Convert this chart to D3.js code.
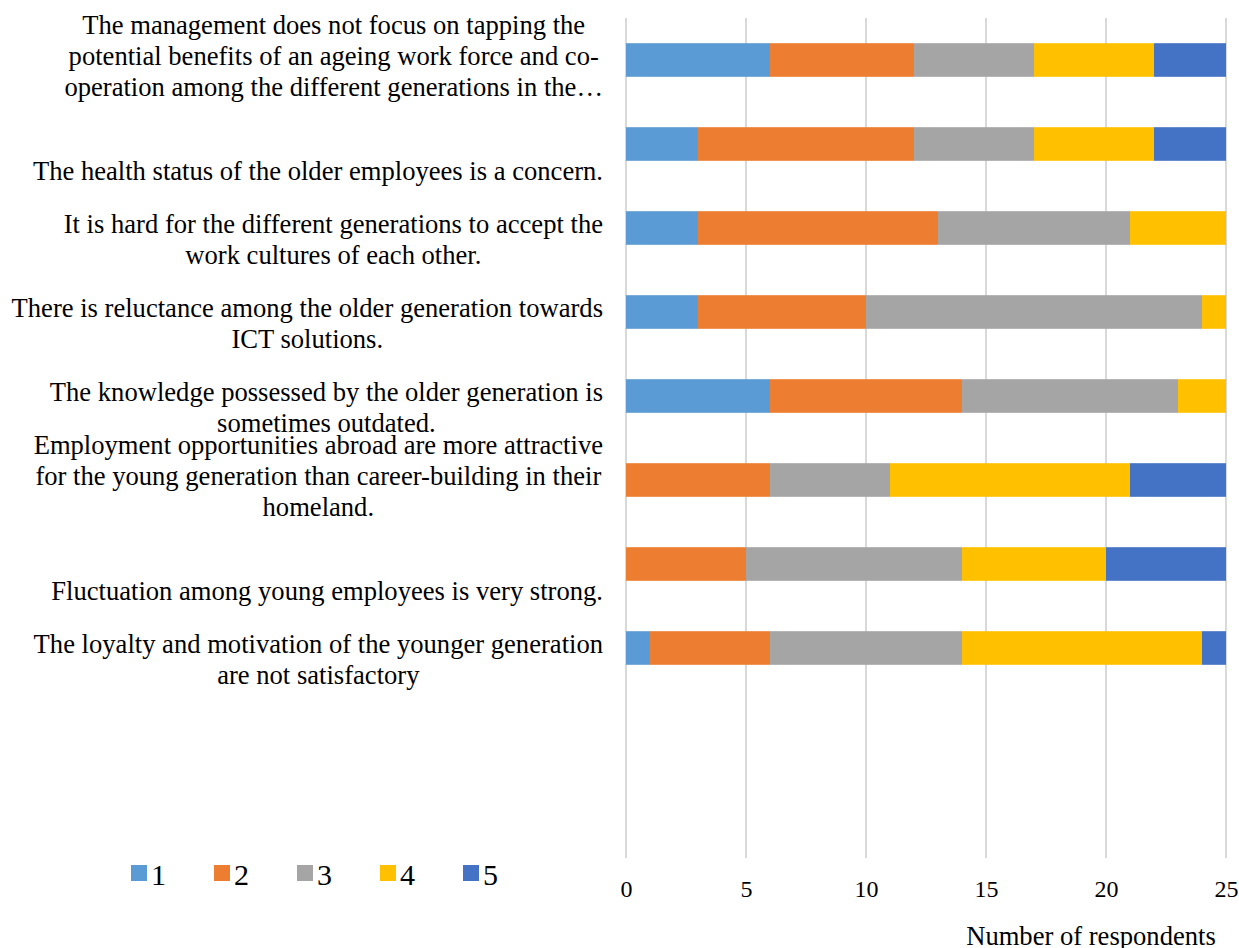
<!DOCTYPE html>
<html>
<head>
<meta charset="utf-8">
<script src="https://cdn.jsdelivr.net/npm/d3@7"></script>
<style>
  html, body { margin: 0; padding: 0; background: #fff; }
  svg { display: block; font-family: "Liberation Serif", "Times New Roman", serif; }
</style>
</head>
<body>
<svg id="chart" width="1239" height="948"></svg>
<script>
// Statements, as wrapped on the category axis (top to bottom)
const categoryLines = [
  ["The management does not focus on tapping the", "potential benefits of an ageing work force and co-", "operation among the different generations in the\u2026"],
  ["The health status of the older employees is a concern."],
  ["It is hard for the different generations to accept the", "work cultures of each other."],
  ["There is reluctance among the older generation towards", "ICT solutions."],
  ["The knowledge possessed by the older generation is", "sometimes outdated."],
  ["Employment opportunities abroad are more attractive", "for the young generation than career-building in their", "homeland."],
  ["Fluctuation among young employees is very strong."],
  ["The loyalty and motivation of the younger generation", "are not satisfactory"]
];

// Number of respondents per rating (1 = lowest agreement ... 5 = highest)
const rating1 = [6, 3, 3, 3, 6, 0, 0, 1];
const rating2 = [6, 9, 10, 7, 8, 6, 5, 5];
const rating3 = [5, 5, 8, 14, 9, 5, 9, 8];
const rating4 = [5, 5, 4, 1, 2, 10, 6, 10];
const rating5 = [3, 3, 0, 0, 0, 4, 5, 1];

const seriesKeys = ["1", "2", "3", "4", "5"];
const seriesColors = ["#5B9BD5", "#ED7D31", "#A5A5A5", "#FFC000", "#4472C4"];
const xTicks = [0, 5, 10, 15, 20, 25];
const slotCount = 10; // the category axis reserves two further empty slots below
const axisTitle = "Number of respondents";

const rows = categoryLines.map((lines, i) => ({
  idx: i,
  "1": rating1[i], "2": rating2[i], "3": rating3[i], "4": rating4[i], "5": rating5[i]
}));

const svg = d3.select("#chart");
const plot = { left: 626, right: 1226, top: 18, bottom: 858 };

const x = d3.scaleLinear().domain([0, 25]).range([plot.left, plot.right]);
const y = d3.scaleBand()
  .domain(d3.range(slotCount))
  .range([plot.top, plot.bottom])
  .paddingInner(0.6)
  .paddingOuter(0.3);
const color = d3.scaleOrdinal().domain(seriesKeys).range(seriesColors);

// Vertical gridlines
svg.append("g")
  .selectAll("line")
  .data(xTicks)
  .join("line")
  .attr("x1", d => x(d)).attr("x2", d => x(d))
  .attr("y1", plot.top).attr("y2", plot.bottom)
  .attr("stroke", "#d9d9d9")
  .attr("stroke-width", 2);

// Stacked bars
const stacked = d3.stack().keys(seriesKeys)(rows);
svg.append("g")
  .selectAll("g")
  .data(stacked)
  .join("g")
  .attr("fill", s => color(s.key))
  .selectAll("rect")
  .data(s => s)
  .join("rect")
  .attr("x", d => x(d[0]))
  .attr("y", d => y(d.data.idx))
  .attr("width", d => x(d[1]) - x(d[0]))
  .attr("height", y.bandwidth());

// X axis tick labels
const xAxis = d3.axisBottom(x).tickValues(xTicks).tickSize(0).tickPadding(0);
const gx = svg.append("g").attr("transform", `translate(0,${plot.bottom})`).call(xAxis);
gx.select(".domain").remove();
gx.selectAll("text")
  .attr("dy", null)
  .attr("y", 39)
  .attr("fill", "#000")
  .style("font-family", '"Liberation Serif", "Times New Roman", serif')
  .style("font-size", "24px");

// Axis title
svg.append("text")
  .attr("x", 1091)
  .attr("y", 945)
  .attr("text-anchor", "middle")
  .style("font-size", "26.6px")
  .attr("fill", "#000")
  .text(axisTitle);

// Category labels: each text block is right-aligned to the axis,
// its lines centred, and its last line sits at the bottom of the slot
const labelRight = 603;
const lineHeight = 31;
const labelG = svg.append("g").style("font-size", "26.6px").attr("fill", "#000");
categoryLines.forEach((lines, i) => {
  const slotBottom = y(i) + y.bandwidth() / 2 + y.step() / 2;
  const lastBaseline = slotBottom - 6;
  const t = labelG.append("text").attr("text-anchor", "middle");
  const spans = lines.map((ln, j) =>
    t.append("tspan")
      .attr("y", lastBaseline - (lines.length - 1 - j) * lineHeight)
      .text(ln));
  const maxW = d3.max(spans, s => s.node().getComputedTextLength());
  spans.forEach(s => s.attr("x", labelRight - maxW / 2));
});

// Legend
const legend = svg.append("g")
  .selectAll("g")
  .data(seriesKeys)
  .join("g")
  .attr("transform", (d, i) => `translate(${131 + i * 83},865)`);
legend.append("rect")
  .attr("width", 16).attr("height", 16)
  .attr("fill", d => color(d));
legend.append("text")
  .attr("x", 20)
  .attr("y", 20)
  .style("font-size", "30px")
  .attr("fill", "#000")
  .text(d => d);
</script>
</body>
</html>
